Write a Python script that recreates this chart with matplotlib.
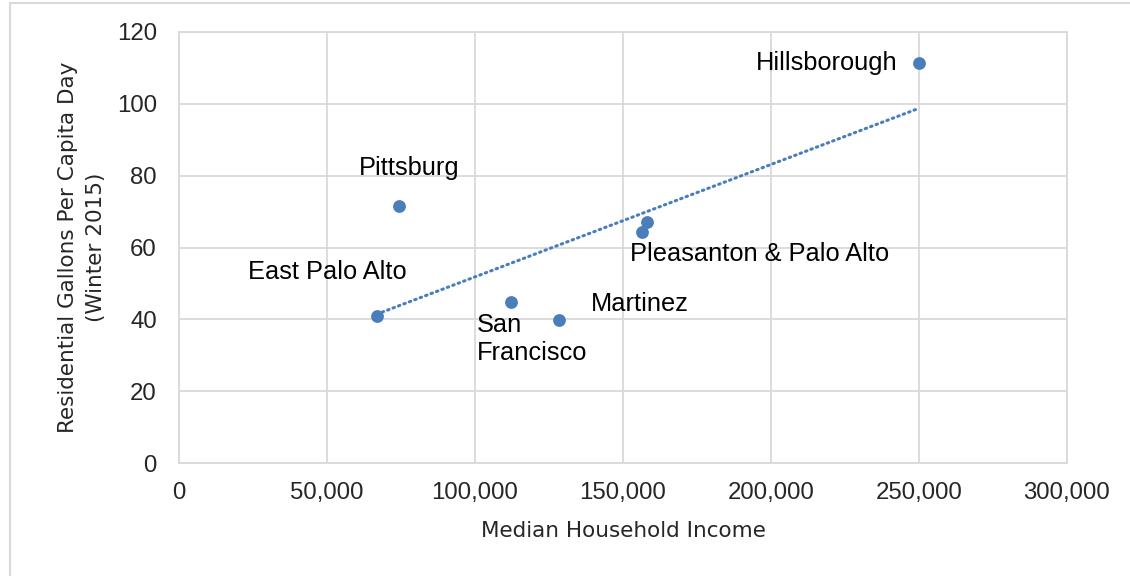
import numpy as np
import matplotlib
matplotlib.use("Agg")
import matplotlib.pyplot as plt
from matplotlib.patches import Rectangle
from matplotlib.ticker import FuncFormatter, MultipleLocator

# city data: median household income vs residential gallons per capita per day
cities = ["East Palo Alto", "Pittsburg", "San Francisco", "Martinez",
          "Pleasanton", "Palo Alto", "Hillsborough"]
income = [66800, 74200, 112200, 128400, 156300, 158000, 250000]
gallons = [40.9, 71.5, 44.8, 39.8, 64.2, 67.2, 111.3]

# text drawn next to each point (Pleasanton and Palo Alto share one label)
point_labels = ["East Palo Alto", "Pittsburg", "San\nFrancisco", "Martinez",
                "Pleasanton & Palo Alto", "", "Hillsborough"]
label_offsets = [(-49, 44), (11, 38), (-34, -37), (32, 16), (-12, -22), (0, 0), (-22, 0)]
label_align = ["center", "center", "left", "left", "left", "left", "right"]

blue = "#4A7EBB"
grid_gray = "#D9D9D9"
text_col = "#262626"
narrow = ["Liberation Sans Narrow", "DejaVu Sans"]

fig = plt.figure(figsize=(11.3, 5.76), dpi=100)
ax = fig.add_axes([179 / 1130, 1 - 463 / 576, (1067 - 179) / 1130, (463 - 32) / 576])

# outer chart-area border
fig.patches.append(Rectangle((10 / 1130, -0.1), 1.2, 1.1 - 3 / 576,
                             transform=fig.transFigure, fill=False,
                             edgecolor=grid_gray, lw=1.5, clip_on=False))

ax.scatter(income, gallons, s=85, color=blue, zorder=3, linewidths=0)

# linear trendline over the data range
x = np.array(income, dtype=float)
y = np.array(gallons, dtype=float)
slope, intercept = np.polyfit(x, y, 1)
xt = np.array([x.min(), x.max()])
ax.plot(xt, slope * xt + intercept, color=blue, lw=2.2, ls=(0, (0.5, 1.4)),
        dash_capstyle="round", zorder=2)

for xi, yi, lab, off, ha in zip(income, gallons, point_labels, label_offsets, label_align):
    if not lab:
        continue
    ax.annotate(lab, (xi, yi), xytext=off, textcoords="offset pixels",
                ha=ha, va="center", fontsize=18.3, color="black",
                family="Liberation Sans", linespacing=1.17)

ax.set_xlim(0, 300000)
ax.set_ylim(0, 120)
ax.xaxis.set_major_locator(MultipleLocator(50000))
ax.yaxis.set_major_locator(MultipleLocator(20))
ax.xaxis.set_major_formatter(FuncFormatter(lambda v, p: f"{int(v):,}"))
ax.grid(True, color=grid_gray, lw=1.3)
ax.set_axisbelow(True)
for sp in ax.spines.values():
    sp.set_color(grid_gray)
    sp.set_linewidth(1.3)
ax.tick_params(axis="x", length=0, labelsize=17.3, labelcolor=text_col, pad=14)
ax.tick_params(axis="y", length=0, labelsize=17.3, labelcolor=text_col, pad=16)
for t in ax.get_xticklabels() + ax.get_yticklabels():
    t.set_family("Liberation Sans")

ax.set_xlabel("Median Household Income", fontsize=15.5, color=text_col,
              family=narrow, labelpad=12)
ax.set_ylabel("Residential Gallons Per Capita Day\n(Winter 2015)", fontsize=15.5,
              color=text_col, family=narrow, labelpad=8, linespacing=1.5)

fig.savefig("out.png", dpi=100)
